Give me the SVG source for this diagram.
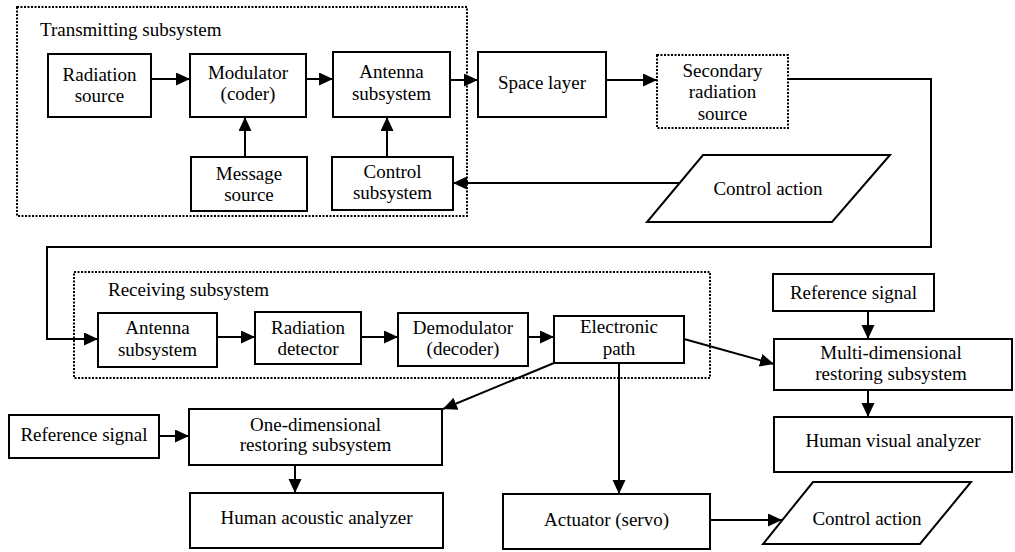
<svg xmlns="http://www.w3.org/2000/svg" width="1015" height="552" viewBox="0 0 1015 552" font-family="'Liberation Serif', 'Times New Roman', serif" font-size="19">
<style>
.box{fill:#fff;stroke:#000;stroke-width:2}
.dot{fill:none;stroke:#000;stroke-width:2;stroke-dasharray:2 1.5}
.dotbox{fill:#fff;stroke:#000;stroke-width:2;stroke-dasharray:2 1.5}
.ln{fill:none;stroke:#000;stroke-width:2}
.t{font-family:'Liberation Serif','Times New Roman',serif;font-size:19px;fill:#000}
.c{font-family:'Liberation Serif','Times New Roman',serif;font-size:19px;fill:#000;text-anchor:middle}
</style>
<defs>
<marker id="ah" markerUnits="userSpaceOnUse" markerWidth="15" markerHeight="14" refX="14" refY="6.5" orient="auto">
<path d="M0,0 L14,6.5 L0,13 z" fill="#000"/>
</marker>
</defs>
<rect width="1015" height="552" fill="#fff"/>
<g id="transmitting-subsystem">
<rect class="dot" x="17" y="7" width="450" height="209"/>
<text class="t" x="40" y="36">Transmitting subsystem</text>
</g>
<g id="receiving-subsystem">
<rect class="dot" x="74" y="272" width="636" height="106"/>
<text class="t" x="108" y="296">Receiving subsystem</text>
</g>
<g id="connectors">
<line class="ln" x1="151" y1="79" x2="190" y2="79" marker-end="url(#ah)"/>
<line class="ln" x1="306" y1="79" x2="333" y2="79" marker-end="url(#ah)"/>
<line class="ln" x1="450" y1="80" x2="478" y2="80" marker-end="url(#ah)"/>
<line class="ln" x1="245" y1="157" x2="245" y2="117" marker-end="url(#ah)"/>
<line class="ln" x1="387" y1="157" x2="387" y2="117" marker-end="url(#ah)"/>
<line class="ln" x1="606" y1="80" x2="657" y2="80" marker-end="url(#ah)"/>
<polyline class="ln" points="788,79 931,79 931,247 47,247 47,339 98,339" marker-end="url(#ah)"/>
<line class="ln" x1="680" y1="183" x2="453" y2="183" marker-end="url(#ah)"/>
<line class="ln" x1="217" y1="337" x2="255" y2="337" marker-end="url(#ah)"/>
<line class="ln" x1="361" y1="337" x2="398" y2="337" marker-end="url(#ah)"/>
<line class="ln" x1="528" y1="337" x2="554" y2="337" marker-end="url(#ah)"/>
<line class="ln" x1="684" y1="339" x2="774" y2="364" marker-end="url(#ah)"/>
<line class="ln" x1="554" y1="363" x2="443" y2="409" marker-end="url(#ah)"/>
<line class="ln" x1="619" y1="363" x2="619" y2="494" marker-end="url(#ah)"/>
<line class="ln" x1="868" y1="311" x2="868" y2="339" marker-end="url(#ah)"/>
<line class="ln" x1="868" y1="390" x2="868" y2="417" marker-end="url(#ah)"/>
<line class="ln" x1="159" y1="436" x2="189" y2="436" marker-end="url(#ah)"/>
<line class="ln" x1="295" y1="465" x2="295" y2="493" marker-end="url(#ah)"/>
<line class="ln" x1="710" y1="520" x2="782" y2="520" marker-end="url(#ah)"/>
</g>
<g id="radiation-source">
<rect class="box" x="48" y="54" width="103" height="63"/>
<text class="c" x="99.5" y="81">Radiation</text>
<text class="c" x="99.5" y="102">source</text>
</g>
<g id="modulator">
<rect class="box" x="190" y="54" width="116" height="63"/>
<text class="c" x="248" y="79">Modulator</text>
<text class="c" x="248" y="100">(coder)</text>
</g>
<g id="tx-antenna">
<rect class="box" x="333" y="52" width="117" height="65"/>
<text class="c" x="391.5" y="78">Antenna</text>
<text class="c" x="391.5" y="100">subsystem</text>
</g>
<g id="message-source">
<rect class="box" x="191" y="157" width="116" height="54"/>
<text class="c" x="249" y="180">Message</text>
<text class="c" x="249" y="201">source</text>
</g>
<g id="control-subsystem">
<rect class="box" x="332" y="157" width="121" height="53"/>
<text class="c" x="392.5" y="178">Control</text>
<text class="c" x="392.5" y="199">subsystem</text>
</g>
<g id="space-layer">
<rect class="box" x="478" y="52" width="128" height="65"/>
<text class="c" x="542" y="89">Space layer</text>
</g>
<g id="secondary-radiation-source">
<rect class="dotbox" x="657" y="55" width="131" height="73"/>
<text class="c" x="722.5" y="77">Secondary</text>
<text class="c" x="722.5" y="98">radiation</text>
<text class="c" x="722.5" y="120">source</text>
</g>
<g id="control-action-top">
<polygon class="box" points="703,155 890,155 832,222 647,222"/>
<text class="c" x="768" y="195">Control action</text>
</g>
<g id="rx-antenna">
<rect class="box" x="98" y="313" width="119" height="54"/>
<text class="c" x="157.5" y="334">Antenna</text>
<text class="c" x="157.5" y="356">subsystem</text>
</g>
<g id="radiation-detector">
<rect class="box" x="255" y="312" width="106" height="52"/>
<text class="c" x="308" y="334">Radiation</text>
<text class="c" x="308" y="355">detector</text>
</g>
<g id="demodulator">
<rect class="box" x="398" y="313" width="130" height="53"/>
<text class="c" x="463" y="334">Demodulator</text>
<text class="c" x="463" y="355">(decoder)</text>
</g>
<g id="electronic-path">
<rect class="box" x="554" y="316" width="130" height="47"/>
<text class="c" x="619" y="333">Electronic</text>
<text class="c" x="619" y="355">path</text>
</g>
<g id="reference-signal-top">
<rect class="box" x="773" y="274" width="161" height="37"/>
<text class="c" x="853.5" y="299">Reference signal</text>
</g>
<g id="multi-dimensional">
<rect class="box" x="774" y="339" width="238" height="51"/>
<text class="c" x="891" y="359">Multi-dimensional</text>
<text class="c" x="891" y="380">restoring subsystem</text>
</g>
<g id="human-visual-analyzer">
<rect class="box" x="774" y="417" width="238" height="55"/>
<text class="c" x="893" y="447">Human visual analyzer</text>
</g>
<g id="reference-signal-left">
<rect class="box" x="9" y="415" width="150" height="43"/>
<text class="c" x="84" y="441">Reference signal</text>
</g>
<g id="one-dimensional">
<rect class="box" x="189" y="409" width="253" height="56"/>
<text class="c" x="315.5" y="431">One-dimensional</text>
<text class="c" x="315.5" y="451">restoring subsystem</text>
</g>
<g id="human-acoustic-analyzer">
<rect class="box" x="190" y="493" width="253" height="55"/>
<text class="c" x="316.5" y="524">Human acoustic analyzer</text>
</g>
<g id="actuator">
<rect class="box" x="503" y="494" width="207" height="55"/>
<text class="c" x="606.5" y="526">Actuator (servo)</text>
</g>
<g id="control-action-bottom">
<polygon class="box" points="813,482 971,482 920,544 763,544"/>
<text class="c" x="867" y="525">Control action</text>
</g>
</svg>
